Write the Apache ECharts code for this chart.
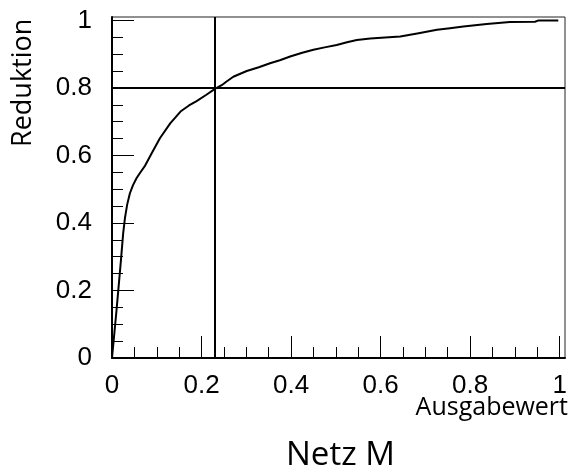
<!DOCTYPE html>
<html>
<head>
<meta charset="utf-8">
<script src="https://cdn.jsdelivr.net/npm/echarts@6/dist/echarts.min.js"></script>
<style>
html,body{margin:0;padding:0;background:#fff;}
#main{width:582px;height:467px;}
</style>
</head>
<body>
<div id="main"></div>
<script>
// Curve (Ausgabewert vs Reduktion)
var xValues = [0, 0.010, 0.020, 0.025, 0.029, 0.034, 0.040, 0.047, 0.055, 0.064, 0.074, 0.089, 0.107, 0.130, 0.153, 0.172, 0.189, 0.210, 0.230, 0.245, 0.256, 0.271, 0.301, 0.328, 0.353, 0.375, 0.398, 0.425, 0.450, 0.475, 0.502, 0.525, 0.547, 0.577, 0.610, 0.644, 0.685, 0.726, 0.755, 0.785, 0.837, 0.889, 0.945, 0.953, 0.997];
var yValues = [0, 0.14, 0.29, 0.37, 0.415, 0.455, 0.488, 0.512, 0.533, 0.551, 0.570, 0.607, 0.651, 0.695, 0.730, 0.748, 0.761, 0.779, 0.797, 0.808, 0.819, 0.833, 0.850, 0.861, 0.873, 0.882, 0.893, 0.904, 0.913, 0.920, 0.927, 0.935, 0.942, 0.946, 0.949, 0.952, 0.962, 0.972, 0.977, 0.982, 0.989, 0.995, 0.996, 1.0, 1.0];
// Reference lines
var cutX = [0.231];
var cutY = [0.8];
// Ticks
var xMajorTicks = [0, 0.2, 0.4, 0.6, 0.8, 1];
var xMinorTicks = [0.05, 0.1, 0.15, 0.25, 0.3, 0.35, 0.45, 0.5, 0.55, 0.65, 0.7, 0.75, 0.85, 0.9, 0.95];
var yMajorTicks = [0, 0.2, 0.4, 0.6, 0.8, 1];
var yMinorTicks = [0.05, 0.1, 0.15, 0.25, 0.3, 0.35, 0.45, 0.5, 0.55, 0.65, 0.7, 0.75, 0.85, 0.9, 0.95];
var xTitle = 'Ausgabewert';
var yTitle = 'Reduktion';
var chartTitle = 'Netz M';

var data = xValues.map(function (x, i) { return [x, yValues[i]]; });
var XMAX = 1.012, YMAX = 1.01;

var chart = echarts.init(document.getElementById('main'), null, {renderer: 'canvas'});
var labelFont = {color: '#000', fontFamily: 'Liberation Sans', fontSize: 26};

function axisMax(dim) { return dim === 'x' ? XMAX : YMAX; }
function axisMajor(dim, ticks) {
  return {
    type: 'value', min: 0, max: axisMax(dim), position: dim === 'x' ? 'bottom' : 'left',
    axisLine: {show: true, onZero: false, lineStyle: {color: '#000', width: 2}},
    axisTick: {show: true, inside: true, length: 22, customValues: ticks, lineStyle: {color: '#000', width: 1}},
    axisLabel: Object.assign({show: true, customValues: ticks, margin: dim === 'x' ? 15 : 20,
      formatter: function (v) { return String(+v.toFixed(2)); }}, labelFont),
    splitLine: {show: false}, minorTick: {show: false}
  };
}
function axisMinor(dim, ticks) {
  return {
    type: 'value', min: 0, max: axisMax(dim), position: dim === 'x' ? 'bottom' : 'left',
    axisLine: {show: false, onZero: false},
    axisTick: {show: true, inside: true, length: 11, customValues: ticks, lineStyle: {color: '#000', width: 1}},
    axisLabel: {show: false},
    splitLine: {show: false}
  };
}

chart.setOption({
  animation: false,
  backgroundColor: '#fff',
  grid: {left: 112, top: 17, right: 17, bottom: 109, show: true, borderColor: '#222', borderWidth: 1, backgroundColor: 'transparent'},
  xAxis: [axisMajor('x', xMajorTicks), axisMinor('x', xMinorTicks)],
  yAxis: [axisMajor('y', yMajorTicks), axisMinor('y', yMinorTicks)],
  series: [{
    type: 'line', xAxisIndex: 0, yAxisIndex: 0, data: data,
    showSymbol: false, symbol: 'none', smooth: false,
    lineStyle: {color: '#000', width: 2},
    markLine: {
      silent: true, symbol: 'none', animation: false,
      label: {show: false},
      lineStyle: {color: '#000', width: 2, type: 'solid'},
      data: cutX.map(function (v) { return {xAxis: v}; }).concat(cutY.map(function (v) { return {yAxis: v}; }))
    }
  }],
  graphic: [
    {type: 'text', right: 14, top: 395, style: {text: xTitle, fill: '#000', font: '25px "Open Sans"'}},
    {type: 'text', left: 286, top: 439, style: {text: chartTitle, fill: '#000', font: '33px "Open Sans"'}},
    {type: 'text', x: 10, y: 147, rotation: Math.PI / 2, style: {text: yTitle, fill: '#000', font: '27px "Open Sans"', verticalAlign: 'top', align: 'left'}}
  ]
});
</script>
</body>
</html>
